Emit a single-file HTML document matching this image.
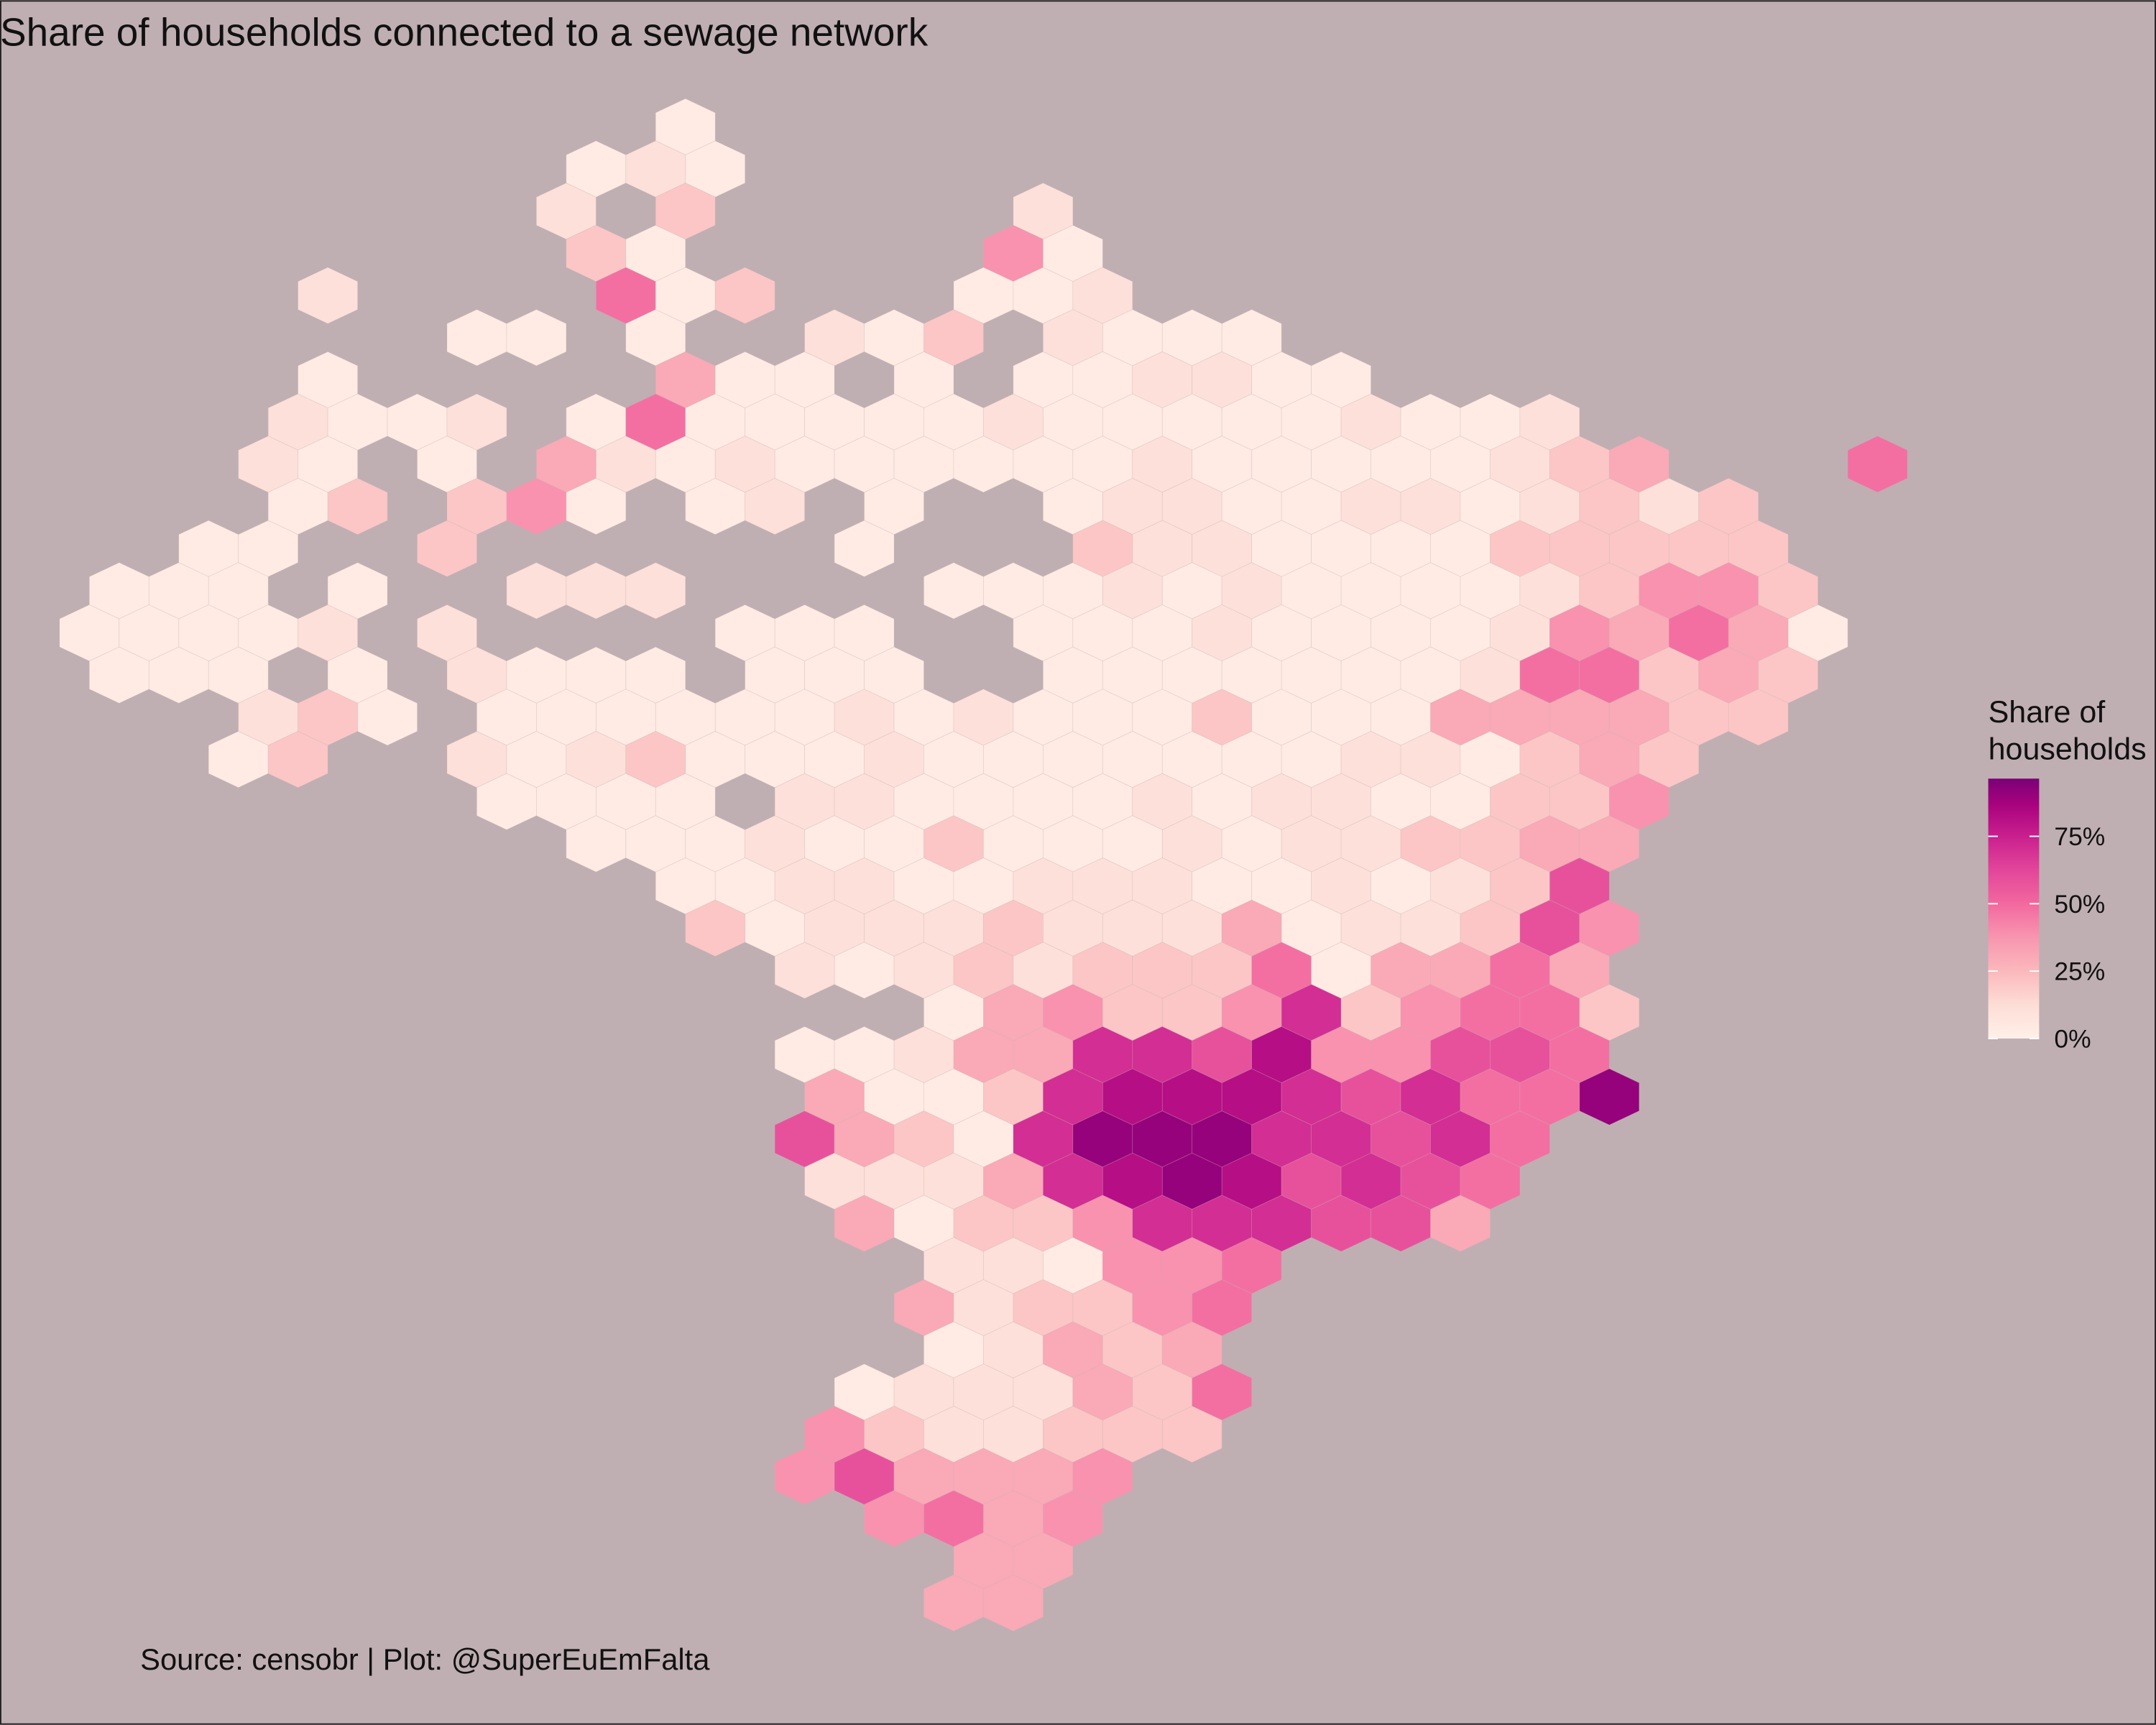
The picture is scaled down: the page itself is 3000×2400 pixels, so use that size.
<!DOCTYPE html>
<html><head><meta charset="utf-8"><style>
html,body{margin:0;padding:0;background:#BFAFB2;}
svg{display:block;}
text{font-family:"Liberation Sans",Arial,sans-serif;}
</style></head><body>
<svg id="chart" width="3000" height="2400" viewBox="0 0 1568 1254" xmlns="http://www.w3.org/2000/svg">
<rect x="0.5" y="0.5" width="1567" height="1253" fill="#BFAFB2" stroke="#222" stroke-width="1"/>
<text x="0" y="33" font-size="28.7" fill="#111">Share of households connected to a sewage network</text>
<g id="hexes"></g>
<g>
<text x="1446" y="525" font-size="22.5" fill="#111">Share of</text>
<text x="1446" y="552" font-size="22.5" fill="#111">households</text>
<defs><linearGradient id="lg" x1="0" y1="1" x2="0" y2="0">
<stop offset="0" stop-color="#FFF0E8"/><stop offset="0.13" stop-color="#FDDDD6"/><stop offset="0.26" stop-color="#FBB8BC"/><stop offset="0.39" stop-color="#F895B0"/><stop offset="0.52" stop-color="#F2689F"/><stop offset="0.65" stop-color="#E2459A"/><stop offset="0.78" stop-color="#C91F8E"/><stop offset="0.9" stop-color="#A8027E"/><stop offset="1" stop-color="#7A0177"/>
</linearGradient></defs>
<rect x="1446" y="566" width="37" height="189" fill="url(#lg)"/>
<g id="legticks"></g>
</g>
<text x="102" y="1214" font-size="21.8" fill="#111">Source: censobr | Plot: @SuperEuEmFalta</text>
</svg>
<script>
// hex grid rows: each char = share level (0..9), '.' = no hex
const hexRows = [
"..........0",
"........010",
"........1.2.....1",
"........20.....40",
"....1....502...001",
"......00.0..102.1000",
"....0.....300.0.001100",
"...1001.05000001000001001",
"...10.0.3101000000100000123...5",
"...02.240.01.0..011001101212",
"..00..2......0...211000022222",
"000.0..111....000101000012442",
"00001.1....000..00010000143530",
"000.0.1000.000..0000000155232",
"...120.0000001010002000333322",
"..02..101200010000000110232",
".......0000.110000101100224",
"........000100200010112233",
"..........0011001110010126",
"..........2011121113011264",
"............10121222503353",
"..............034224724552",
"............00133776844665",
"............30027888767559",
"............6320799977675",
"............111378986765",
".............30224777663",
"..............110445",
"..............312245",
"..............01323",
".............0111325",
"............4211222",
"............463334",
".............4534",
"...............33",
"..............33"
];
const levelPct = [3,10,20,30,38,48,58,70,82,92];
const legendTicks = [0,25,50,75];
const legendLabels = ["0%","25%","50%","75%"];

const stops=[[0,"#FFF0E8"],[12,"#FDDDD6"],[25,"#FBB8BC"],[37,"#F895B0"],[50,"#F2689F"],[62,"#E2459A"],[75,"#C91F8E"],[87,"#A8027E"],[100,"#7A0177"]];
function hex2rgb(h){return [1,3,5].map(i=>parseInt(h.substr(i,2),16));}
function color(p){
  for(let k=1;k<stops.length;k++){
    if(p<=stops[k][0]){const a=stops[k-1],b=stops[k];const t=(p-a[0])/(b[0]-a[0]);
      const c1=hex2rgb(a[1]),c2=hex2rgb(b[1]);
      return "rgb("+c1.map((v,i)=>Math.round(v+(c2[i]-v)*t)).join(",")+")";}
  }
  return stops[stops.length-1][1];
}
const X0=65,DX=43.35,Y0=92,DY=30.67,RX=21.68,RY=20.45;
function xPos(i,r){return X0+i*DX+(r%2?DX/2:0);}
function yPos(r){return Y0+r*DY;}
const NS="http://www.w3.org/2000/svg";
const g=document.getElementById("hexes");
hexRows.forEach((row,r)=>{
  for(let i=0;i<row.length;i++){
    const ch=row[i]; if(ch===".") continue;
    const cx=xPos(i,r),cy=yPos(r);
    const pts=[[0,-RY],[RX,-RY/2],[RX,RY/2],[0,RY],[-RX,RY/2],[-RX,-RY/2]].map(p=>(cx+p[0]).toFixed(2)+","+(cy+p[1]).toFixed(2)).join(" ");
    const el=document.createElementNS(NS,"polygon");
    el.setAttribute("points",pts);
    el.setAttribute("fill",color(levelPct[+ch]));
    el.setAttribute("stroke","rgba(200,180,180,0.35)");
    el.setAttribute("stroke-width","0.4");
    
    
    g.appendChild(el);
  }
});
const lt=document.getElementById("legticks");
function legY(p){return 755-p*(189/96.4);}
legendTicks.forEach((p,k)=>{
  const y=legY(p);
  [[1446,1453],[1476,1483]].forEach(xx=>{
    const l=document.createElementNS(NS,"line");
    l.setAttribute("x1",xx[0]);l.setAttribute("x2",xx[1]);l.setAttribute("y1",y);l.setAttribute("y2",y);
    l.setAttribute("stroke","#fff");l.setAttribute("stroke-width","1");
    
    
    lt.appendChild(l);
  });
  const t=document.createElementNS(NS,"text");
  t.setAttribute("x",1494);t.setAttribute("y",y+6.5);t.setAttribute("font-size","18.5");t.setAttribute("fill","#111");
  t.textContent=legendLabels[k];
  
  
  lt.appendChild(t);
});
</script>
</body></html>
